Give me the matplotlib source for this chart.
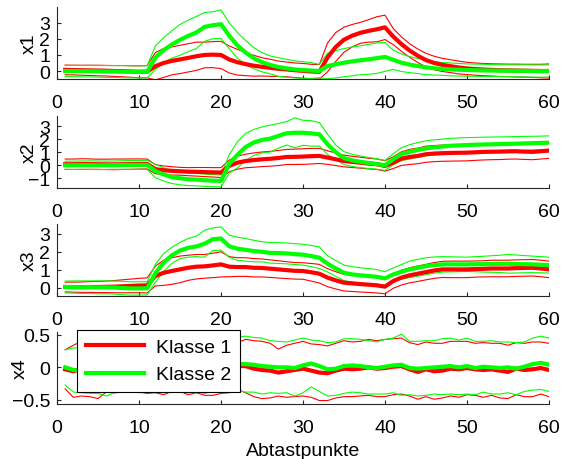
# Mittelwert und Streuung von 4 Merkmalen fuer 2 Klassen ueber 60 Abtastpunkte
import numpy as np
import matplotlib.pyplot as plt

plt.rcParams['font.family'] = ['Liberation Sans', 'DejaVu Sans']

abtast = np.arange(1, 61)  # Abtastpunkte 1..60

# ---- x1 ----
x1_k1_mittel = [0.07, 0.06, 0.05, 0.04, 0.03, 0.02, 0.0, -0.01, -0.03, -0.05, -0.04,
                0.30, 0.50, 0.63, 0.72, 0.82, 0.92, 1.00, 1.02, 1.00,
                0.72, 0.55, 0.43, 0.33, 0.26, 0.20, 0.14, 0.10, 0.05, 0.01, -0.03, -0.05,
                0.85, 1.50, 1.95, 2.20, 2.38, 2.50, 2.60, 2.72,
                2.15, 1.68, 1.28, 0.95, 0.68, 0.50, 0.38, 0.30, 0.22, 0.16,
                0.12, 0.09, 0.07, 0.05, 0.04, 0.03, 0.02, 0.01, 0.00, 0.00]
x1_k1_streu = [0.30, 0.30, 0.31, 0.32, 0.33, 0.33, 0.34, 0.35, 0.36, 0.37, 0.38,
               0.85, 0.90, 0.87, 0.88, 0.88, 0.88, 0.80, 0.81, 0.85,
               0.84, 0.80, 0.72, 0.65, 0.57, 0.53, 0.48, 0.46, 0.45, 0.46, 0.45, 0.45,
               0.90, 0.90, 0.78, 0.70, 0.65, 0.70, 0.78, 0.76,
               0.50, 0.45, 0.42, 0.42, 0.42, 0.42, 0.41, 0.40, 0.40, 0.38,
               0.38, 0.38, 0.38, 0.39, 0.39, 0.40, 0.40, 0.41, 0.42, 0.44]
x1_k2_mittel = [0.00, 0.00, -0.01, -0.01, -0.02, -0.03, -0.03, -0.04, -0.05, -0.05, -0.05,
                0.83, 1.30, 1.65, 1.94, 2.19, 2.40, 2.75, 2.85, 2.92,
                2.20, 1.60, 1.15, 0.80, 0.55, 0.38, 0.25, 0.17, 0.10, 0.06, 0.03, 0.00,
                0.31, 0.42, 0.52, 0.60, 0.67, 0.73, 0.80, 0.88,
                0.70, 0.52, 0.40, 0.31, 0.23, 0.17, 0.13, 0.10, 0.08, 0.06,
                0.05, 0.04, 0.03, 0.02, 0.02, 0.01, 0.01, 0.00, 0.00, 0.00]
x1_k2_streu = [0.34, 0.35, 0.35, 0.36, 0.36, 0.37, 0.37, 0.38, 0.38, 0.38, 0.38,
               0.73, 0.78, 0.85, 0.96, 0.98, 1.00, 0.90, 0.84, 0.89,
               0.80, 0.80, 0.75, 0.66, 0.60, 0.56, 0.58, 0.56, 0.53, 0.52, 0.49, 0.42,
               0.80, 0.85, 0.88, 0.90, 0.90, 0.93, 0.95, 0.90,
               0.60, 0.55, 0.50, 0.47, 0.45, 0.42, 0.40, 0.40, 0.39, 0.38,
               0.38, 0.38, 0.37, 0.37, 0.37, 0.37, 0.38, 0.38, 0.38, 0.38]

# ---- x2 ----
x2_k1_mittel = [0.08, 0.08, 0.09, 0.09, 0.08, 0.07, 0.07, 0.08, 0.09, 0.10, 0.10,
                -0.30, -0.38, -0.43, -0.46, -0.49, -0.50, -0.52, -0.54, -0.56,
                -0.05, 0.20, 0.33, 0.40, 0.46, 0.50, 0.56, 0.64, 0.65, 0.67, 0.70, 0.72,
                0.59, 0.46, 0.33, 0.26, 0.20, 0.13, 0.08, -0.05,
                0.20, 0.51, 0.64, 0.72, 0.85, 0.90, 0.93, 0.95, 0.96, 0.97,
                1.00, 1.03, 1.04, 1.05, 1.07, 1.08, 1.05, 1.03, 1.08, 1.13]
x2_k1_streu = [0.40, 0.40, 0.41, 0.40, 0.39, 0.40, 0.41, 0.40, 0.40, 0.39, 0.38,
               0.35, 0.33, 0.32, 0.30, 0.31, 0.33, 0.35, 0.36, 0.38,
               0.45, 0.50, 0.52, 0.55, 0.56, 0.57, 0.58, 0.58, 0.59, 0.60, 0.60, 0.58,
               0.52, 0.48, 0.45, 0.43, 0.42, 0.41, 0.40, 0.40,
               0.45, 0.52, 0.58, 0.60, 0.62, 0.62, 0.62, 0.63, 0.63, 0.63,
               0.62, 0.62, 0.61, 0.61, 0.60, 0.60, 0.60, 0.60, 0.60, 0.60]
x2_k2_mittel = [0.00, 0.00, 0.01, 0.01, 0.00, 0.00, 0.01, 0.02, 0.03, 0.03, 0.03,
                -0.44, -0.70, -0.90, -1.00, -1.07, -1.10, -1.15, -1.18, -1.20,
                0.10, 0.80, 1.40, 1.75, 1.95, 2.05, 2.26, 2.46, 2.50, 2.50, 2.45, 2.38,
                1.60, 1.00, 0.55, 0.38, 0.27, 0.18, 0.10, 0.00,
                0.46, 0.85, 1.03, 1.18, 1.30, 1.38, 1.44, 1.50, 1.53, 1.56,
                1.58, 1.60, 1.61, 1.63, 1.64, 1.66, 1.68, 1.70, 1.72, 1.74]
x2_k2_streu = [0.31, 0.32, 0.32, 0.33, 0.33, 0.32, 0.32, 0.33, 0.34, 0.34, 0.35,
               0.52, 0.50, 0.50, 0.50, 0.49, 0.48, 0.47, 0.46, 0.46,
               0.70, 1.00, 1.05, 1.00, 1.00, 1.03, 0.95, 0.90, 1.15, 0.96, 0.98, 0.90,
               0.78, 0.55, 0.50, 0.47, 0.45, 0.42, 0.40, 0.38,
               0.42, 0.50, 0.55, 0.57, 0.58, 0.58, 0.57, 0.57, 0.57, 0.57,
               0.56, 0.56, 0.56, 0.55, 0.55, 0.55, 0.54, 0.53, 0.52, 0.52]

# ---- x3 ----
x3_k1_mittel = [0.04, 0.03, 0.03, 0.04, 0.04, 0.05, 0.06, 0.08, 0.10, 0.12, 0.13,
                0.65, 0.83, 0.93, 1.02, 1.11, 1.17, 1.19, 1.24, 1.30,
                1.17, 1.15, 1.15, 1.11, 1.10, 1.06, 1.02, 0.98, 0.94, 0.93, 0.86, 0.78,
                0.56, 0.41, 0.28, 0.24, 0.20, 0.17, 0.13, 0.06,
                0.37, 0.56, 0.69, 0.78, 0.87, 0.96, 1.02, 1.02, 1.02, 1.02,
                1.04, 1.05, 1.07, 1.07, 1.07, 1.09, 1.10, 1.11, 1.07, 1.02]
x3_k1_streu = [0.27, 0.28, 0.29, 0.30, 0.31, 0.32, 0.34, 0.36, 0.38, 0.40, 0.42,
               0.55, 0.70, 0.74, 0.74, 0.70, 0.68, 0.66, 0.68, 0.70,
               0.56, 0.52, 0.52, 0.51, 0.50, 0.49, 0.48, 0.47, 0.46, 0.46, 0.49, 0.52,
               0.50, 0.48, 0.46, 0.45, 0.44, 0.43, 0.42, 0.40,
               0.40, 0.41, 0.42, 0.43, 0.43, 0.44, 0.45, 0.46, 0.46, 0.46,
               0.45, 0.45, 0.46, 0.46, 0.46, 0.46, 0.46, 0.46, 0.46, 0.46]
x3_k2_mittel = [0.04, 0.04, 0.03, 0.03, 0.02, 0.02, 0.01, -0.02, -0.04, -0.04, -0.03,
                0.80, 1.40, 1.80, 2.07, 2.22, 2.30, 2.45, 2.70, 2.74,
                2.31, 2.17, 2.11, 2.04, 2.00, 1.94, 1.93, 1.91, 1.87, 1.84, 1.76, 1.67,
                1.33, 1.07, 0.83, 0.74, 0.69, 0.65, 0.61, 0.52,
                0.74, 0.89, 1.02, 1.11, 1.20, 1.26, 1.30, 1.30, 1.30, 1.30,
                1.31, 1.31, 1.32, 1.33, 1.33, 1.32, 1.31, 1.30, 1.28, 1.26]
x3_k2_streu = [0.33, 0.34, 0.35, 0.35, 0.36, 0.36, 0.36, 0.37, 0.37, 0.37, 0.37,
               0.50, 0.50, 0.45, 0.45, 0.52, 0.57, 0.75, 0.63, 0.65,
               0.62, 0.64, 0.63, 0.60, 0.56, 0.57, 0.58, 0.58, 0.58, 0.58, 0.59, 0.60,
               0.45, 0.44, 0.43, 0.43, 0.42, 0.42, 0.40, 0.37,
               0.36, 0.40, 0.46, 0.47, 0.47, 0.45, 0.43, 0.42, 0.41, 0.40,
               0.42, 0.44, 0.46, 0.48, 0.52, 0.50, 0.48, 0.46, 0.45, 0.44]

# ---- x4 ----
x4_k1_mittel = [-0.03, -0.06, -0.02, 0.01, -0.04, 0.02, -0.01, 0.03, -0.02, 0.00,
                -0.03, 0.01, -0.02, 0.02, 0.00, -0.04, 0.01, -0.01, 0.02, 0.00,
                -0.02, 0.02, 0.02, -0.02, -0.04, -0.05, -0.08, -0.06, -0.04, -0.02,
                -0.05, -0.08, -0.09, -0.05, -0.02, -0.03, -0.02, 0.00, -0.02, -0.01,
                0.01, 0.02, -0.03, -0.07, -0.03, -0.06, -0.05, -0.02, -0.03, -0.01,
                -0.03, -0.04, -0.03, -0.05, -0.07, -0.02, -0.04, -0.03, -0.01, -0.04]
x4_k1_streu = [0.30, 0.40, 0.42, 0.46, 0.44, 0.40, 0.38, 0.41, 0.36, 0.38,
               0.37, 0.40, 0.40, 0.39, 0.37, 0.38, 0.40, 0.42, 0.45, 0.40,
               0.37, 0.36, 0.41, 0.43, 0.44, 0.42, 0.36, 0.40, 0.41, 0.42,
               0.41, 0.43, 0.42, 0.42, 0.43, 0.42, 0.42, 0.43, 0.43, 0.44,
               0.43, 0.43, 0.41, 0.42, 0.42, 0.43, 0.42, 0.42, 0.43, 0.41,
               0.40, 0.42, 0.40, 0.42, 0.41, 0.40, 0.41, 0.42, 0.40, 0.41]
x4_k2_mittel = [0.00, -0.04, -0.05, -0.03, -0.02, -0.04, -0.01, -0.02, 0.01, -0.01,
                0.02, 0.00, 0.01, 0.03, 0.01, 0.00, 0.02, 0.01, 0.03, 0.02,
                0.04, 0.05, 0.05, 0.04, 0.02, 0.01, 0.00, 0.00, -0.01, 0.03,
                0.06, 0.02, -0.03, -0.02, 0.02, 0.03, 0.02, 0.00, -0.01, 0.01,
                0.03, 0.04, -0.01, -0.02, -0.01, 0.00, 0.01, 0.02, 0.00, 0.02,
                -0.01, 0.01, 0.00, -0.01, 0.00, -0.02, 0.01, 0.05, 0.07, 0.04]
x4_k2_streu = [0.27, 0.34, 0.34, 0.37, 0.38, 0.40, 0.38, 0.36, 0.34, 0.38,
               0.40, 0.38, 0.40, 0.39, 0.38, 0.39, 0.40, 0.41, 0.40, 0.41,
               0.42, 0.41, 0.43, 0.42, 0.43, 0.40, 0.40, 0.39, 0.43, 0.42,
               0.36, 0.39, 0.41, 0.41, 0.42, 0.41, 0.41, 0.41, 0.40, 0.42,
               0.42, 0.47, 0.41, 0.42, 0.42, 0.41, 0.43, 0.43, 0.42, 0.43,
               0.41, 0.39, 0.41, 0.40, 0.39, 0.40, 0.38, 0.40, 0.41, 0.41]

merkmale = ['x1', 'x2', 'x3', 'x4']
klasse1 = [(x1_k1_mittel, x1_k1_streu), (x2_k1_mittel, x2_k1_streu),
           (x3_k1_mittel, x3_k1_streu), (x4_k1_mittel, x4_k1_streu)]
klasse2 = [(x1_k2_mittel, x1_k2_streu), (x2_k2_mittel, x2_k2_streu),
           (x3_k2_mittel, x3_k2_streu), (x4_k2_mittel, x4_k2_streu)]
y_ticks = [[0, 1, 2, 3], [-1, 0, 1, 2, 3], [0, 1, 2, 3], [-0.5, 0, 0.5]]
y_lims = [(-0.5, 4.0), (-1.75, 3.8), (-0.47, 3.55), (-0.56, 0.55)]
label_x = [-0.04, -0.04, -0.04, -0.057]  # Lage der y-Beschriftung (Achsenkoordinaten)

rot = (1, 0, 0)
gruen = (0, 1, 0)

fig = plt.figure(figsize=(5.63, 4.60), dpi=100)
unten = [0.826, 0.589, 0.354, 0.120]  # untere Kante jeder Achse

for i in range(4):
    ax = fig.add_axes([0.1012, unten[i], 0.8739, 0.157])
    m1, s1 = np.array(klasse1[i][0]), np.array(klasse1[i][1])
    m2, s2 = np.array(klasse2[i][0]), np.array(klasse2[i][1])
    # duenne Linien: Mittelwert +/- Streuung
    ax.plot(abtast, m1 + s1, color=rot, lw=0.8)
    ax.plot(abtast, m1 - s1, color=rot, lw=0.8)
    ax.plot(abtast, m2 + s2, color=gruen, lw=0.8)
    ax.plot(abtast, m2 - s2, color=gruen, lw=0.8)
    # dicke Linien: Mittelwert
    l1, = ax.plot(abtast, m1, color=rot, lw=3, label='Klasse 1')
    l2, = ax.plot(abtast, m2, color=gruen, lw=3, label='Klasse 2')

    ax.set_xlim(0, 60)
    ax.set_ylim(*y_lims[i])
    ax.set_xticks(range(0, 61, 10))
    ax.set_yticks(y_ticks[i])
    ax.set_yticklabels([('%g' % t).replace('-', '\u2212') for t in y_ticks[i]])
    ax.spines['top'].set_visible(False)
    ax.spines['right'].set_visible(False)
    for s in ['left', 'bottom']:
        ax.spines[s].set_color('#262626')
        ax.spines[s].set_linewidth(0.8)
    ax.tick_params(direction='in', length=3, width=0.8, color='#262626', labelsize=14)
    ax.tick_params(axis='x', pad=11)
    ax.tick_params(axis='y', pad=5)
    ax.set_ylabel(merkmale[i], fontsize=14)
    ax.yaxis.set_label_coords(label_x[i], 0.5)

    if i == 3:
        ax.set_xlabel('Abtastpunkte', fontsize=14, labelpad=4)
        leg = ax.legend(handles=[l1, l2], loc='upper left', bbox_to_anchor=(0.137, 0.281),
                        bbox_transform=fig.transFigure, borderaxespad=0, fontsize=14,
                        handlelength=3.0, handletextpad=0.6, labelspacing=0.5,
                        borderpad=0.45, fancybox=False, framealpha=1, edgecolor='black')
        leg.get_frame().set_linewidth(0.8)

plt.savefig('out.png', dpi=100)
